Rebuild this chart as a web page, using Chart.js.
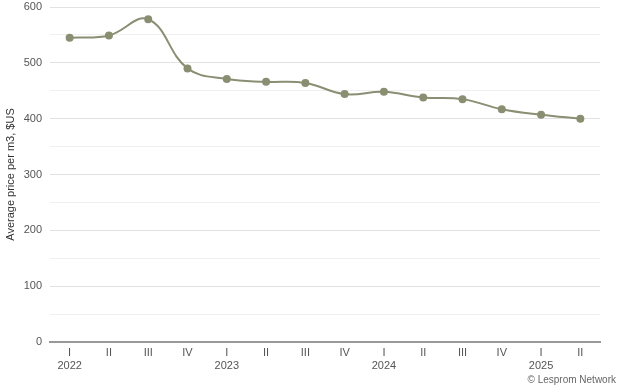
<!DOCTYPE html>
<html><head><meta charset="utf-8">
<script src="https://cdn.jsdelivr.net/npm/chart.js@4"></script>
<style>
html,body{margin:0;padding:0;background:#fff;}
#wrap{position:relative;width:624px;height:392px;}
#credit{position:absolute;right:8px;top:374px;font:10px "Liberation Sans",Arial,sans-serif;color:#666;}
</style></head>
<body><div id="wrap"><canvas id="c" width="624" height="392"></canvas><div id="credit">© Lesprom Network</div></div>
<script>
const quarters = ['I','II','III','IV','I','II','III','IV','I','II','III','IV','I','II'];
const years = ['2022','','','','2023','','','','2024','','','','2025',''];
const prices = [545,549,578,490,471,466,464,444,448,438,435,417,407,400];
const yTicks = [0,100,200,300,400,500,600];

const labels = quarters.map((q,i)=> years[i] ? [q, years[i]] : q);
const FONT = '"Liberation Sans", Arial, sans-serif';

new Chart(document.getElementById('c'), {
  type: 'line',
  data: { labels, datasets: [{
    data: prices,
    borderColor: '#8a8e72',
    backgroundColor: '#8a8e72',
    borderWidth: 2,
    pointRadius: 3,
    pointHoverRadius: 3,
    tension: 0.4,
    fill: false
  }]},
  options: {
    responsive: false,
    animation: false,
    layout: { padding: { left: 0, right: 24, top: 7, bottom: 0 } },
    plugins: { legend: { display: false }, tooltip: { enabled: false } },
    scales: {
      x: {
        offset: true,
        grid: { display: false, drawTicks: false },
        border: { display: true, color: '#999', width: 2 },
        ticks: { color: '#555', font: { family: FONT, size: 11 }, padding: 4, maxRotation: 0, autoSkip: false },
        afterFit: s => { s.height = 50; s.paddingLeft = 0; s.paddingRight = 0; }
      },
      y: {
        min: 0, max: 600,
        afterBuildTicks: s => { const t=[]; for(let v=0; v<=600; v+=50) t.push({value:v}); s.ticks = t; },
        grid: { drawTicks: false, color: c => (c.tick && c.tick.value % 100 === 0) ? '#e2e2e2' : '#f0f0f0', lineWidth: 1 },
        border: { display: false },
        ticks: { color: '#555', font: { family: FONT, size: 11 }, padding: 8,
          callback: v => yTicks.includes(v) ? String(v) : '' },
        title: { display: true, text: 'Average price per m3, $US', color: '#333', font: { family: FONT, size: 11 }, padding: { top: 4, bottom: 2 } },
        afterFit: s => { s.width = 50; s.paddingTop = 0; s.paddingBottom = 0; }
      }
    }
  }
});
</script>
</body></html>
